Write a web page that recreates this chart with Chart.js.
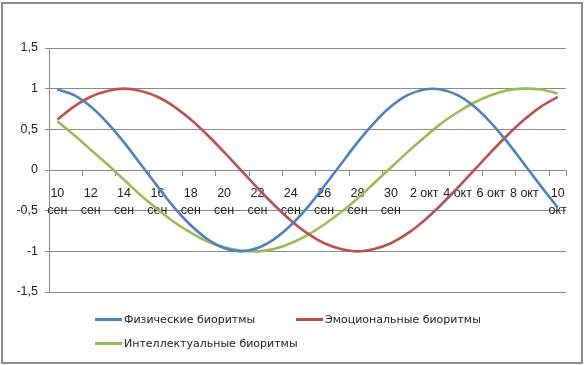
<!DOCTYPE html>
<html>
<head>
<meta charset="utf-8">
<script src="https://cdn.jsdelivr.net/npm/chart.js@4"></script>
<style>
    html, body { margin: 0; padding: 0; background: #fff; }
    #wrap { position: relative; width: 584px; height: 365px; }
    #frame { position: absolute; left: 1px; top: 2px; width: 578px; height: 358px; border: 2px solid #8c8c8c; pointer-events: none; }
    .leg { position: absolute; font-family: "DejaVu Sans", sans-serif; font-size: 11px; color: #222; white-space: nowrap; line-height: 14px; }
    .leg i { display: inline-block; width: 27px; height: 3px; vertical-align: middle; margin-right: 2px; position: relative; top: -1px; }
</style>
</head>
<body>
<div id="wrap">
    <canvas id="chart" width="584" height="365"></canvas>
    <div id="frame"></div>
    <div class="leg" style="left:95px; top:313px;"><i style="background:#4f81bd"></i>Физические биоритмы</div>
    <div class="leg" style="left:296px; top:313px;"><i style="background:#c0504d"></i>Эмоциональные биоритмы</div>
    <div class="leg" style="left:95px; top:337px;"><i style="background:#9bbb59"></i>Интеллектуальные биоритмы</div>
</div>
<script>
// Days on the x axis (one point per day)
const days = ['10 сен', '11 сен', '12 сен', '13 сен', '14 сен', '15 сен', '16 сен', '17 сен', '18 сен', '19 сен',
    '20 сен', '21 сен', '22 сен', '23 сен', '24 сен', '25 сен', '26 сен', '27 сен', '28 сен', '29 сен', '30 сен',
    '1 окт', '2 окт', '3 окт', '4 окт', '5 окт', '6 окт', '7 окт', '8 окт', '9 окт', '10 окт'];

// Labels shown under every second day
const tickLabels = [['10', 'сен'], ['12', 'сен'], ['14', 'сен'], ['16', 'сен'], ['18', 'сен'], ['20', 'сен'],
    ['22', 'сен'], ['24', 'сен'], ['26', 'сен'], ['28', 'сен'], ['30', 'сен'],
    '2 окт', '4 окт', '6 окт', '8 окт', ['10', 'окт']];

const yTicks = [-1.5, -1, -0.5, 0, 0.5, 1, 1.5];

// Series
const physical = [0.99, 0.92, 0.78, 0.58, 0.34, 0.07, -0.2, -0.46, -0.68, -0.85, -0.96, -1, -0.96, -0.85, -0.68, -0.46,
    -0.2, 0.07, 0.34, 0.58, 0.78, 0.92, 0.99, 0.99, 0.92, 0.78, 0.58, 0.34, 0.07, -0.2, -0.46];
const emotional = [0.62, 0.78, 0.9, 0.97, 1, 0.97, 0.9, 0.78, 0.62, 0.43, 0.22, 0, -0.22, -0.43, -0.62, -0.78,
    -0.9, -0.97, -1, -0.97, -0.9, -0.78, -0.62, -0.43, -0.22, 0, 0.22, 0.43, 0.62, 0.78, 0.9];
const intellectual = [0.6, 0.43, 0.25, 0.07, -0.12, -0.31, -0.48, -0.64, -0.77, -0.88, -0.95, -0.99, -1, -0.97, -0.9, -0.8,
    -0.67, -0.52, -0.35, -0.16, 0.03, 0.22, 0.4, 0.57, 0.71, 0.83, 0.92, 0.98, 1, 0.99, 0.94];

const gridColor = '#8a8a8a';
const axisFont = { family: 'Liberation Sans', size: 12.5, lineHeight: 1.35 };

function series(label, data, color) {
    return {
        label: label,
        data: data,
        borderColor: color,
        backgroundColor: color,
        borderWidth: 2.6,
        pointRadius: 0,
        tension: 0.35,
        fill: false
    };
}

new Chart(document.getElementById('chart'), {
    type: 'line',
    data: {
        labels: days,
        datasets: [
            series('Физические биоритмы', physical, '#4f81bd'),
            series('Эмоциональные биоритмы', emotional, '#c0504d'),
            series('Интеллектуальные биоритмы', intellectual, '#9bbb59')
        ]
    },
    options: {
        responsive: false,
        animation: false,
        layout: { padding: { left: 0, right: 18, top: 48, bottom: 73 } },
        plugins: {
            legend: { display: false },
            tooltip: { enabled: false }
        },
        scales: {
            x: {
                type: 'category',
                position: { y: 0 },
                offset: true,
                grid: {
                    offset: true,
                    drawOnChartArea: false,
                    tickLength: 5,
                    color: ctx => (ctx.index % 2 === 1 ? 'rgba(0,0,0,0)' : gridColor)
                },
                border: { color: gridColor, width: 1 },
                ticks: {
                    autoSkip: false,
                    maxRotation: 0,
                    minRotation: 0,
                    padding: 10,
                    color: '#222',
                    font: axisFont,
                    callback: (v, i) => (i % 2 === 0 ? tickLabels[i / 2] : '')
                }
            },
            y: {
                min: -1.5,
                max: 1.5,
                afterFit: scale => { scale.width = 49; },
                afterBuildTicks: scale => { scale.ticks = yTicks.map(v => ({ value: v })); },
                grid: { color: gridColor, tickLength: 4 },
                border: { color: gridColor, width: 1 },
                ticks: {
                    padding: 7,
                    color: '#222',
                    font: axisFont,
                    callback: v => String(v).replace('.', ',')
                }
            }
        }
    }
});
</script>
</body>
</html>
